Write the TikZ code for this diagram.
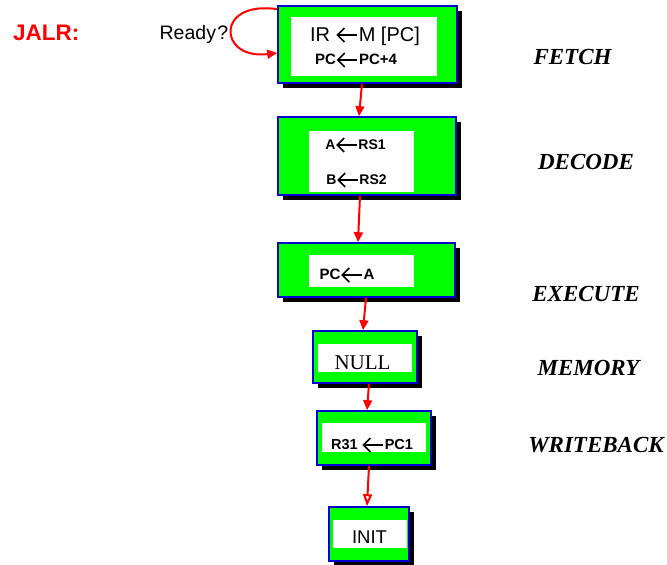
\documentclass[tikz,border=0pt]{standalone}
\usepackage{fontspec}
\setmainfont{Liberation Sans}
\newfontfamily\timesfont{Liberation Serif}
\usetikzlibrary{arrows.meta,shadows}
\newcommand{\larr}[1][5]{\kern1pt\tikz[baseline={(0,-#1pt)},x=1pt,y=1pt]{\draw[line width=1.6pt,line cap=butt] (20,0) -- (0.8,0); \draw[line width=1.6pt, line join=miter] (7.5,7) -- (0.5,0) -- (7.5,-7);}\kern1pt}
\tikzset{
  stage/.style={rectangle, draw={rgb,255:red,0;green,0;blue,210}, line width=1.6pt, fill={rgb,255:red,0;green,255;blue,0},
    inner sep=0pt, drop shadow={shadow xshift=5pt,shadow yshift=-5pt,fill=black,opacity=1}},
  inbox/.style={rectangle, fill=white, inner sep=0pt},
  txt/.style={inner sep=0pt, anchor=base},
  flow/.style={draw=red, line width=2pt, -{Triangle[length=10pt,width=9pt]}, red},
  phase/.style={inner sep=0pt, anchor=base, font=\timesfont\bfseries\itshape\fontsize{23}{23}\selectfont},
}
\begin{document}
\begin{tikzpicture}[x=1pt,y=1pt]
\useasboundingbox (0,0) rectangle (667,565);
\fill[white] (0,0) rectangle (667,565);

% boxes
\node[stage, minimum width=179pt, minimum height=77pt] (b1) at (367.5,520.5) {};
\node[inbox, minimum width=146pt, minimum height=59pt] (w1) at (364,518.5) {};
\node[stage, minimum width=178pt, minimum height=78pt] (b2) at (367,409) {};
\node[inbox, minimum width=105pt, minimum height=61pt] (w2) at (361.5,403.5) {};
\node[stage, minimum width=177pt, minimum height=54pt] (b3) at (366.5,295) {};
\node[inbox, minimum width=105pt, minimum height=32pt] (w3) at (361.5,294) {};
\node[stage, minimum width=104pt, minimum height=52pt] (b4) at (365,208) {};
\node[inbox, minimum width=94pt, minimum height=28pt] (w4) at (365,207) {};
\node[stage, minimum width=114pt, minimum height=54pt] (b5) at (374,127) {};
\node[inbox, minimum width=104pt, minimum height=29pt] (w5) at (374,127.5) {};
\node[stage, minimum width=80pt, minimum height=54pt] (b6) at (369,31) {};
\node[inbox, minimum width=74pt, minimum height=28pt] (w6) at (370,31) {};

% box texts
\node[txt, font=\fontsize{20}{20}\selectfont] (t1a) at (365,523) {IR \larr[7]M [PC]};
\node[txt, font=\bfseries\fontsize{15}{15}\selectfont] (t1b) at (356,500) {PC\larr PC+4};
\node[txt, font=\bfseries\fontsize{14}{14}\selectfont] (t2a) at (355.5,415) {A\larr RS1};
\node[txt, font=\bfseries\fontsize{14}{14}\selectfont] (t2b) at (356.5,380) {B\larr RS2};
\node[txt, font=\bfseries\fontsize{15}{15}\selectfont] (t3) at (347,285) {PC\larr A};
\node[txt, font=\timesfont\fontsize{21}{21}\selectfont] (t4) at (362.5,195) {NULL};
\node[txt, font=\bfseries\fontsize{14.5}{14.5}\selectfont] (t5) at (372,115) {R31 \larr PC1};
\node[txt, font=\fontsize{18.5}{18.5}\selectfont] (t6) at (369.5,21) {INIT};

% left labels
\node[txt, anchor=base west, text=red, font=\bfseries\fontsize{22.5}{22.5}\selectfont] (jalr) at (13,524) {JALR:};
\node[txt, font=\fontsize{19.5}{19.5}\selectfont] (ready) at (194,525) {Ready\kern1.5pt?};

% phase labels
\node[phase] (p1) at (572.5,500) {FETCH};
\node[phase] (p2) at (586,395) {DECODE};
\node[phase] (p3) at (586,263) {EXECUTE};
\node[phase] (p4) at (588.5,189) {MEMORY};
\node[phase] (p5) at (596,112) {WRITEBACK};

% connectors
\draw[flow] ([xshift=-5.5pt]b1.south) -- ([xshift=-8pt]b2.north);
\draw[flow] ([xshift=-7pt]b2.south) -- ([xshift=-8.5pt]b3.north);
\draw[flow] ([xshift=-0.5pt]b3.south) -- ([xshift=-2pt]b4.north);
\draw[flow] ([xshift=4pt]b4.south) -- ([xshift=-7pt]b5.north);
\draw[draw=red, line width=2pt, -{Triangle[open,length=12pt,width=9pt]}] ([xshift=-5pt]b5.south) -- ([xshift=-2pt]b6.north);
\draw[flow] ([yshift=-4pt]b1.north west) .. controls (215,565) and (218,505) .. ([yshift=-8.5pt]b1.west);
\end{tikzpicture}
\end{document}
